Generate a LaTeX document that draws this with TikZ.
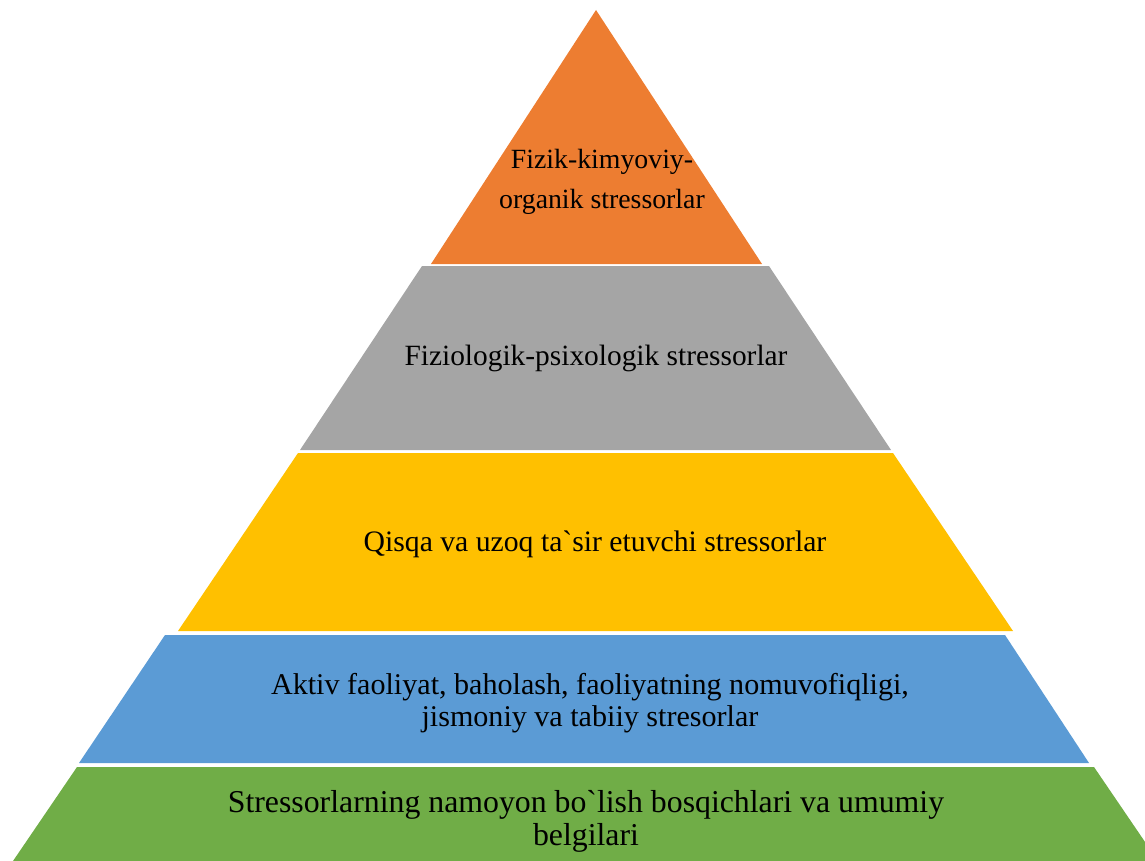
\documentclass[tikz,border=0pt]{standalone}
\usepackage{fontspec}
\setmainfont{Liberation Serif}
\newfontfamily\tnr{Liberation Serif}
\definecolor{cOrange}{HTML}{ED7D31}
\definecolor{cGray}{HTML}{A5A5A5}
\definecolor{cYellow}{HTML}{FFC000}
\definecolor{cBlue}{HTML}{5B9BD5}
\definecolor{cGreen}{HTML}{70AD47}
\tikzset{
  lbl/.style={align=center, text=black, inner sep=0pt}
}
\begin{document}
\begin{tikzpicture}[x=1pt,y=-1pt]
\useasboundingbox (0,0) rectangle (1145,861);
\begin{scope}
\clip (0,0) rectangle (1145,861);
\fill[cOrange] (596,10) -- (762,264) -- (431,264) -- cycle;
\fill[cGray] (422,266) -- (769,266) -- (891,450) -- (300,450) -- cycle;
\fill[cYellow] (298,453) -- (893,453) -- (1013,631) -- (178,631) -- cycle;
\fill[cBlue] (165,635) -- (1005,635) -- (1089,763) -- (79,763) -- cycle;
\fill[cGreen] (77,767) -- (1094,767) -- (1158,861) -- (13,861) -- cycle;
\end{scope}
\node[lbl, font=\tnr\fontsize{27.8}{40}\selectfont] (t1) at (602,182) {Fizik-kimyoviy-\\organik stressorlar};
\node[lbl, font=\tnr\fontsize{29.4}{32}\selectfont] (t2) at (596,358) {Fiziologik-psixologik stressorlar};
\node[lbl, font=\tnr\fontsize{29.7}{32}\selectfont] (t3) at (595,544) {Qisqa va uzoq ta`sir etuvchi stressorlar};
\node[lbl, font=\tnr\fontsize{30.1}{32}\selectfont] (t4) at (590,703) {Aktiv faoliyat, baholash, faoliyatning nomuvofiqligi,\\jismoniy va tabiiy stresorlar};
\node[lbl, font=\tnr\fontsize{31.8}{33}\selectfont] (t5) at (586,821) {Stressorlarning namoyon bo`lish bosqichlari va umumiy\\belgilari};
\end{tikzpicture}
\end{document}
